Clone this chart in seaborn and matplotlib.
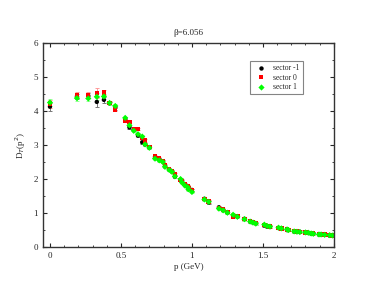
import numpy as np
import pandas as pd
import matplotlib
matplotlib.use("Agg")
import matplotlib.pyplot as plt
import seaborn as sns
from matplotlib.ticker import MultipleLocator

# momenta (GeV)
p = [0.0, 0.19, 0.27, 0.33, 0.38, 0.42, 0.46, 0.53, 0.56, 0.59, 0.62, 0.65, 0.67,
     0.70, 0.74, 0.77, 0.795, 0.81, 0.84, 0.86, 0.88, 0.92, 0.93, 0.95, 0.97, 0.975,
     1.0, 1.088, 1.118, 1.19, 1.22, 1.25, 1.29, 1.32, 1.37, 1.41, 1.43, 1.45, 1.51,
     1.53, 1.55, 1.61, 1.63, 1.67, 1.68, 1.72, 1.74, 1.76, 1.80, 1.82, 1.84, 1.855,
     1.895, 1.91, 1.935, 1.97, 1.99]

d_m1 = [4.13, 4.43, 4.45, 4.27, 4.33, 4.23, 4.10, 3.75, 3.52, 3.45, 3.28, 3.08, 3.02,
        2.93, 2.65, 2.58, 2.52, 2.38, 2.28, 2.22, 2.07, 1.98, 1.92, 1.83, 1.78, 1.72,
        1.68, 1.42, 1.31, 1.17, 1.09, 1.02, 0.93, 0.90, 0.83, 0.75, 0.73, 0.70, 0.64,
        0.61, 0.60, 0.56, 0.55, 0.50, 0.50, 0.46, 0.45, 0.45, 0.43, 0.42, 0.40, 0.40,
        0.37, 0.37, 0.37, 0.34, 0.34]
d_0 = [4.22, 4.47, 4.48, 4.53, 4.55, 4.23, 4.05, 3.72, 3.68, 3.47, 3.47, 3.20, 3.13,
       2.95, 2.68, 2.60, 2.53, 2.40, 2.30, 2.24, 2.13, 1.97, 1.95, 1.85, 1.80, 1.73,
       1.67, 1.42, 1.34, 1.14, 1.10, 1.04, 0.90, 0.91, 0.82, 0.76, 0.74, 0.71, 0.65,
       0.62, 0.60, 0.56, 0.55, 0.52, 0.50, 0.47, 0.46, 0.45, 0.43, 0.42, 0.41, 0.40,
       0.38, 0.37, 0.37, 0.35, 0.34]
d_1 = [4.25, 4.38, 4.37, 4.42, 4.43, 4.24, 4.15, 3.80, 3.58, 3.42, 3.32, 3.25, 3.02,
       2.92, 2.60, 2.55, 2.50, 2.36, 2.27, 2.21, 2.08, 2.00, 1.90, 1.81, 1.76, 1.70,
       1.62, 1.40, 1.33, 1.13, 1.08, 1.01, 0.95, 0.89, 0.82, 0.75, 0.72, 0.69, 0.66,
       0.62, 0.60, 0.57, 0.55, 0.52, 0.50, 0.46, 0.45, 0.44, 0.43, 0.42, 0.40, 0.39,
       0.37, 0.37, 0.36, 0.35, 0.34]
err_m1 = [0.12, 0.08, 0.08, 0.15, 0.08, 0.05, 0.06] + [0.04] * 50
err_0 = [0.12, 0.08, 0.08, 0.15, 0.08, 0.05, 0.06] + [0.04] * 50
err_1 = [0.10, 0.07, 0.07, 0.10, 0.07, 0.05, 0.06] + [0.04] * 50

labels = ["sector -1", "sector 0", "sector 1"]

df = pd.concat([
    pd.DataFrame({"p": p, "D": d_m1, "err": err_m1, "sector": labels[0]}),
    pd.DataFrame({"p": p, "D": d_0, "err": err_0, "sector": labels[1]}),
    pd.DataFrame({"p": p, "D": d_1, "err": err_1, "sector": labels[2]}),
])

sns.set_style("ticks")
plt.rcParams["font.family"] = ["Liberation Serif", "DejaVu Serif"]

colors = {"sector -1": "black", "sector 0": "red", "sector 1": "#00ff00"}
errcolors = {"sector -1": "#777777", "sector 0": "#ff9999", "sector 1": "#99ff99"}
markers = {"sector -1": "o", "sector 0": "s", "sector 1": "D"}

fig = plt.figure(figsize=(3.76, 2.91), dpi=100)
ax = fig.add_axes([0.114, 0.151, 0.774, 0.701])

# error bars first, points on top
for s in labels:
    sub = df[df["sector"] == s]
    ax.errorbar(sub["p"], sub["D"], yerr=sub["err"], fmt="none",
                ecolor=errcolors[s], elinewidth=0.7, capsize=1.5, capthick=0.7, zorder=1)

sns.scatterplot(data=df, x="p", y="D", hue="sector", style="sector",
                palette=colors, markers=markers, s=10, linewidth=0,
                ax=ax, zorder=2)

ax.set_xlim(-0.05, 2.0)
ax.set_ylim(0, 6)
ax.xaxis.set_major_locator(MultipleLocator(0.5))
ax.xaxis.set_minor_locator(MultipleLocator(0.1))
ax.yaxis.set_major_locator(MultipleLocator(1))
ax.yaxis.set_minor_locator(MultipleLocator(0.5))
ax.xaxis.set_major_formatter(plt.FuncFormatter(lambda v, _: f"{v:g}"))
ax.tick_params(which="both", direction="in", top=True, right=True, labelsize=6.5)
ax.tick_params(which="major", length=3, width=0.8)
ax.tick_params(which="minor", length=1.5, width=0.6)
for sp in ax.spines.values():
    sp.set_linewidth(1.0)
    sp.set_color("#333333")

ax.set_title("β=6.056", fontsize=6.5, pad=6)
ax.set_xlabel("p (GeV)", fontsize=6.5, labelpad=2)
ax.set_ylabel("D$_T$(p$^2$)", fontsize=6.5, labelpad=4)

leg = ax.legend(loc="upper left", bbox_to_anchor=(0.70, 0.93), fontsize=5.5,
                frameon=True, fancybox=False, edgecolor="#666666",
                handletextpad=0.6, borderpad=0.4, labelspacing=0.2)
leg.get_frame().set_linewidth(0.8)

fig.savefig("out.png", dpi=100)
